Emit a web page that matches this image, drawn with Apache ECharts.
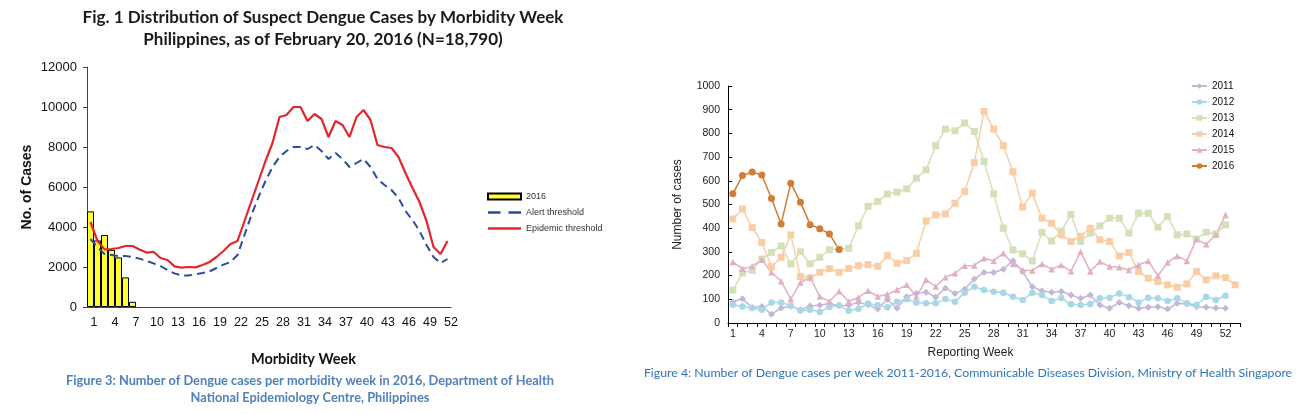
<!DOCTYPE html>
<html>
<head>
<meta charset="utf-8">
<script src="https://cdn.jsdelivr.net/npm/echarts@6/dist/echarts.min.js"></script>
<style>
html,body{margin:0;padding:0;background:#fff}
#main{width:1304px;height:414px}
</style>
</head>
<body>
<div id="main"></div>
<script>
// Philippines (left) - morbidity weeks
var weeksPh = ['1','2','3','4','5','6','7','8','9','10','11','12','13','14','15','16','17','18','19','20','21','22','23','24','25','26',
               '27','28','29','30','31','32','33','34','35','36','37','38','39','40','41','42','43','44','45','46','47','48','49','50','51','52'];
var cases2016 = [4780, 3330, 3600, 2860, 2480, 1480, 260];
var alertThreshold = [3400, 3000, 2650, 2600, 2550, 2550, 2500, 2420, 2300, 2180, 2050, 1850, 1680, 1580, 1580, 1630, 1700, 1780, 1950, 2120,
                      2250, 2600, 3600, 4600, 5500, 6300, 7000, 7500, 7800, 8000, 8000, 7900, 8100, 7800, 7400, 7700, 7400, 7000, 7200, 7400,
                      7000, 6400, 6100, 5850, 5450, 4800, 4350, 3800, 3100, 2500, 2200, 2400];
var epidemicThreshold = [4250, 3300, 2880, 2900, 2950, 3050, 3050, 2870, 2720, 2760, 2450, 2350, 2030, 1970, 2000, 1980, 2100, 2250, 2500, 2800,
                         3150, 3300, 4300, 5300, 6300, 7300, 8200, 9500, 9600, 10000, 10000, 9300, 9650, 9400, 8500, 9300, 9100, 8500, 9500, 9850,
                         9350, 8100, 8000, 7950, 7500, 6700, 5950, 5250, 4300, 3000, 2650, 3300];

// Singapore (right) - reporting weeks
var weeksSg = ['1','2','3','4','5','6','7','8','9','10','11','12','13','14','15','16','17','18','19','20','21','22','23','24','25','26',
               '27','28','29','30','31','32','33','34','35','36','37','38','39','40','41','42','43','44','45','46','47','48','49','50','51','52','53'];
var sg2011 = [89, 102, 65, 70, 37, 63, 71, 56, 72, 75, 82, 73, 75, 87, 77, 59, 100, 62, 111, 125, 130, 109, 147, 125, 142, 186,
              213, 213, 227, 263, 217, 153, 135, 130, 133, 118, 104, 118, 76, 62, 87, 73, 62, 66, 69, 59, 83, 80, 69, 66, 63, 62];
var sg2012 = [77, 70, 63, 56, 87, 87, 73, 53, 56, 46, 68, 74, 52, 60, 82, 75, 66, 90, 100, 86, 83, 83, 101, 90, 128, 153,
              139, 132, 128, 111, 97, 128, 118, 93, 105, 79, 76, 80, 104, 107, 125, 109, 87, 107, 104, 93, 104, 83, 76, 111, 97, 115];
var sg2013 = [139, 211, 222, 270, 298, 325, 249, 301, 250, 277, 309, 312, 315, 410, 492, 513, 544, 552, 566, 611, 646, 748, 818, 811, 844, 808,
              682, 545, 400, 308, 292, 262, 382, 346, 388, 458, 344, 379, 410, 442, 442, 379, 463, 463, 404, 449, 372, 376, 354, 383, 376, 414];
var sg2014 = [439, 481, 403, 340, 237, 277, 372, 196, 190, 214, 229, 214, 230, 242, 246, 239, 284, 252, 264, 294, 430, 456, 460, 505, 555, 677,
              893, 818, 748, 638, 489, 548, 442, 421, 372, 344, 366, 400, 351, 344, 283, 297, 217, 189, 175, 161, 151, 165, 217, 182, 199, 191, 161];
var sg2015 = [257, 229, 239, 267, 214, 176, 101, 171, 193, 112, 91, 134, 91, 108, 136, 112, 121, 140, 161, 112, 182, 154, 193, 210, 242, 243,
              273, 263, 294, 249, 224, 221, 249, 227, 245, 218, 301, 217, 259, 238, 235, 224, 245, 262, 199, 255, 283, 262, 354, 332, 372, 456];
var sg2016 = [545, 622, 637, 624, 525, 418, 590, 510, 415, 398, 376, 310];

var myChart = echarts.init(document.getElementById('main'));

var captionBlue = '#4f81bd';
var plainNumber = function (v) { return String(v); };

function sgLine(name, values, color, symbol, size) {
    return {
        name: name, type: 'line', xAxisIndex: 1, yAxisIndex: 1,
        data: values, symbol: symbol, symbolSize: size, showAllSymbol: true,
        itemStyle: { color: color },
        lineStyle: { color: color, width: 1.5 }
    };
}

function caption(text, x, y, font, color) {
    return {
        type: 'text', x: x, y: y,
        style: {
            text: text, font: font, fill: color,
            align: 'center', verticalAlign: 'middle', textAlign: 'center', textVerticalAlign: 'middle'
        }
    };
}

var option = {
    backgroundColor: '#fff',
    animation: false,
    textStyle: { fontFamily: 'Liberation Sans' },
    title: {
        text: 'Fig. 1 Distribution of Suspect Dengue Cases by Morbidity Week\nPhilippines, as of February 20, 2016 (N=18,790)',
        left: 318,
        top: 2,
        textAlign: 'center',
        textStyle: { fontFamily: 'Lato', fontWeight: 'bold', fontSize: 17, lineHeight: 22, color: '#1a1a1a' }
    },
    grid: [
        { left: 87, top: 67, width: 364, height: 240 },
        { left: 728, top: 86, width: 512, height: 237 }
    ],
    legend: [
        {
            orient: 'vertical', left: 482, top: 187,
            itemWidth: 33, itemHeight: 6, itemGap: 7,
            textStyle: { fontSize: 9, color: '#333', fontFamily: 'Liberation Sans' },
            data: [
                { name: '2016', icon: 'rect' },
                { name: 'Alert threshold', icon: 'path://M2,0H13V2.4H2Z M20,0H31V2.4H20Z' },
                { name: 'Epidemic threshold', icon: 'path://M0,0H33V2.6H0Z' }
            ]
        },
        {
            orient: 'vertical', left: 1186, top: 75,
            itemWidth: 15, itemHeight: 7, itemGap: 4,
            textStyle: { fontSize: 10, color: '#111', lineHeight: 12, fontFamily: 'Liberation Sans' },
            data: ['2011', '2012', '2013', '2014', '2015', '2016 ']
        }
    ],
    xAxis: [
        {
            gridIndex: 0, type: 'category', data: weeksPh,
            axisLine: { lineStyle: { color: '#444' } },
            axisTick: { show: false },
            axisLabel: { interval: 2, fontSize: 12.5, color: '#111', margin: 9, padding: [0, 0, 0, 7], fontFamily: 'Liberation Sans' },
            name: 'Morbidity Week', nameLocation: 'middle', nameGap: 45,
            nameTextStyle: { fontFamily: 'Lato', fontWeight: 'bold', fontSize: 14.5, color: '#111', padding: [0, 0, 0, 69] }
        },
        {
            gridIndex: 1, type: 'category', data: weeksSg,
            axisLine: { lineStyle: { color: '#000' } },
            axisTick: { show: true, interval: 0, length: 4, lineStyle: { color: '#000' } },
            axisLabel: { interval: 2, fontSize: 10.5, color: '#222', margin: 6, fontFamily: 'Liberation Sans' },
            name: 'Reporting Week', nameLocation: 'middle', nameGap: 24,
            nameTextStyle: { fontSize: 12, color: '#222', padding: [0, 27, 0, 0], fontFamily: 'Liberation Sans' }
        }
    ],
    yAxis: [
        {
            gridIndex: 0, type: 'value', min: 0, max: 12000, interval: 2000,
            axisLine: { show: true, lineStyle: { color: '#444' } },
            axisTick: { show: true, length: 4, lineStyle: { color: '#444' } },
            splitLine: { show: false },
            axisLabel: { fontSize: 13, color: '#111', margin: 10, formatter: plainNumber, fontFamily: 'Liberation Sans' },
            name: 'No. of Cases', nameLocation: 'middle', nameGap: 53,
            nameTextStyle: { fontWeight: 'bold', fontSize: 14, color: '#111', fontFamily: 'Liberation Sans' }
        },
        {
            gridIndex: 1, type: 'value', min: 0, max: 1000, interval: 100,
            axisLine: { show: true, lineStyle: { color: '#000' } },
            axisTick: { show: true, inside: true, length: 4, lineStyle: { color: '#000' } },
            splitLine: { show: false },
            axisLabel: { fontSize: 10.5, color: '#222', margin: 8, formatter: plainNumber, fontFamily: 'Liberation Sans' },
            name: 'Number of cases', nameLocation: 'middle', nameGap: 44,
            nameTextStyle: { fontSize: 12, color: '#222', fontFamily: 'Liberation Sans' }
        }
    ],
    series: [
        {
            name: '2016', type: 'bar', xAxisIndex: 0, yAxisIndex: 0,
            data: cases2016, barCategoryGap: '0%',
            itemStyle: { color: '#ffff33', borderColor: '#000', borderWidth: 1 }
        },
        {
            name: 'Alert threshold', type: 'line', xAxisIndex: 0, yAxisIndex: 0,
            data: alertThreshold, symbol: 'none',
            itemStyle: { color: '#2b4c9b' },
            lineStyle: { color: '#2b4c9b', width: 2, type: [8, 5] }
        },
        {
            name: 'Epidemic threshold', type: 'line', xAxisIndex: 0, yAxisIndex: 0,
            data: epidemicThreshold, symbol: 'none',
            itemStyle: { color: '#e3262d' },
            lineStyle: { color: '#e3262d', width: 2.2 }
        },
        sgLine('2011', sg2011, '#c4b5d9', 'diamond', 7),
        sgLine('2012', sg2012, '#a8d8e5', 'circle', 6.5),
        sgLine('2013', sg2013, '#d4e1b8', 'rect', 7),
        sgLine('2014', sg2014, '#f9cea5', 'rect', 7),
        sgLine('2015', sg2015, '#e2b0c0', 'triangle', 6.5),
        sgLine('2016 ', sg2016, '#d27c34', 'circle', 7)
    ],
    graphic: [
        caption('Figure 3: Number of Dengue cases per morbidity week in 2016, Department of Health', 310, 381, 'bold 12.8px Lato', captionBlue),
        caption('National Epidemiology Centre, Philippines', 310, 398, 'bold 12.8px Lato', captionBlue),
        caption('Figure 4: Number of Dengue cases per week 2011-2016, Communicable Diseases Division, Ministry of Health Singapore', 968, 373, '12.3px Lato', '#2e74b9')
    ]
};

myChart.setOption(option);
</script>
</body>
</html>
